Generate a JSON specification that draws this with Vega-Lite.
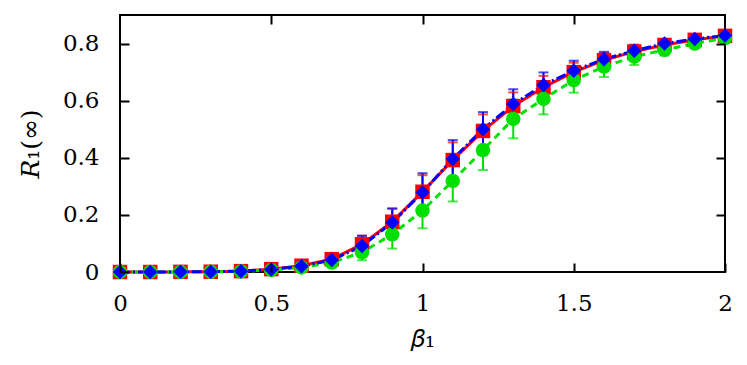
{
  "$schema": "https://vega.github.io/schema/vega-lite/v6.json",
  "width": 605,
  "height": 257,
  "autosize": {"type": "none"},
  "padding": {"left": 120, "top": 15, "right": 22, "bottom": 93},
  "background": "white",
  "config": {
    "view": {"stroke": "black", "strokeWidth": 2},
    "font": "DejaVu Serif"
  },
  "data": {"values": [
    {"s": "red", "x": 0, "y": 0, "lo": 0, "hi": 0},
    {"s": "red", "x": 0.1, "y": 0, "lo": 0, "hi": 0},
    {"s": "red", "x": 0.2, "y": 0.0005, "lo": 0.0003, "hi": 0.0007},
    {"s": "red", "x": 0.3, "y": 0.001, "lo": 0.0006, "hi": 0.0014},
    {"s": "red", "x": 0.4, "y": 0.003, "lo": 0.002, "hi": 0.004},
    {"s": "red", "x": 0.5, "y": 0.01, "lo": 0.007, "hi": 0.013},
    {"s": "red", "x": 0.6, "y": 0.022, "lo": 0.016, "hi": 0.028},
    {"s": "red", "x": 0.7, "y": 0.045, "lo": 0.033, "hi": 0.057},
    {"s": "red", "x": 0.8, "y": 0.097, "lo": 0.067, "hi": 0.127},
    {"s": "red", "x": 0.9, "y": 0.176, "lo": 0.131, "hi": 0.221},
    {"s": "red", "x": 1.0, "y": 0.281, "lo": 0.223, "hi": 0.339},
    {"s": "red", "x": 1.1, "y": 0.392, "lo": 0.33, "hi": 0.454},
    {"s": "red", "x": 1.2, "y": 0.494, "lo": 0.436, "hi": 0.552},
    {"s": "red", "x": 1.3, "y": 0.581, "lo": 0.533, "hi": 0.629},
    {"s": "red", "x": 1.4, "y": 0.647, "lo": 0.607, "hi": 0.687},
    {"s": "red", "x": 1.5, "y": 0.70, "lo": 0.667, "hi": 0.733},
    {"s": "red", "x": 1.6, "y": 0.742, "lo": 0.717, "hi": 0.767},
    {"s": "red", "x": 1.7, "y": 0.772, "lo": 0.752, "hi": 0.792},
    {"s": "red", "x": 1.8, "y": 0.795, "lo": 0.781, "hi": 0.809},
    {"s": "red", "x": 1.9, "y": 0.813, "lo": 0.803, "hi": 0.823},
    {"s": "red", "x": 2.0, "y": 0.827, "lo": 0.821, "hi": 0.833},
    {"s": "green", "x": 0, "y": 0, "lo": 0, "hi": 0},
    {"s": "green", "x": 0.1, "y": 0, "lo": 0, "hi": 0},
    {"s": "green", "x": 0.2, "y": 0.0003, "lo": 0.0002, "hi": 0.0004},
    {"s": "green", "x": 0.3, "y": 0.0008, "lo": 0.0005, "hi": 0.0011},
    {"s": "green", "x": 0.4, "y": 0.002, "lo": 0.001, "hi": 0.003},
    {"s": "green", "x": 0.5, "y": 0.007, "lo": 0.004, "hi": 0.010},
    {"s": "green", "x": 0.6, "y": 0.016, "lo": 0.008, "hi": 0.024},
    {"s": "green", "x": 0.7, "y": 0.033, "lo": 0.018, "hi": 0.048},
    {"s": "green", "x": 0.8, "y": 0.069, "lo": 0.041, "hi": 0.097},
    {"s": "green", "x": 0.9, "y": 0.132, "lo": 0.082, "hi": 0.182},
    {"s": "green", "x": 1.0, "y": 0.215, "lo": 0.153, "hi": 0.277},
    {"s": "green", "x": 1.1, "y": 0.319, "lo": 0.247, "hi": 0.391},
    {"s": "green", "x": 1.2, "y": 0.427, "lo": 0.357, "hi": 0.497},
    {"s": "green", "x": 1.3, "y": 0.536, "lo": 0.468, "hi": 0.604},
    {"s": "green", "x": 1.4, "y": 0.606, "lo": 0.552, "hi": 0.66},
    {"s": "green", "x": 1.5, "y": 0.672, "lo": 0.628, "hi": 0.716},
    {"s": "green", "x": 1.6, "y": 0.719, "lo": 0.683, "hi": 0.755},
    {"s": "green", "x": 1.7, "y": 0.754, "lo": 0.725, "hi": 0.783},
    {"s": "green", "x": 1.8, "y": 0.778, "lo": 0.758, "hi": 0.798},
    {"s": "green", "x": 1.9, "y": 0.80, "lo": 0.786, "hi": 0.814},
    {"s": "green", "x": 2.0, "y": 0.819, "lo": 0.809, "hi": 0.829},
    {"s": "blue", "x": 0, "y": 0, "lo": 0, "hi": 0},
    {"s": "blue", "x": 0.1, "y": 0, "lo": 0, "hi": 0},
    {"s": "blue", "x": 0.2, "y": 0.0005, "lo": 0.0003, "hi": 0.0007},
    {"s": "blue", "x": 0.3, "y": 0.001, "lo": 0.0006, "hi": 0.0014},
    {"s": "blue", "x": 0.4, "y": 0.003, "lo": 0.002, "hi": 0.004},
    {"s": "blue", "x": 0.5, "y": 0.009, "lo": 0.006, "hi": 0.012},
    {"s": "blue", "x": 0.6, "y": 0.02, "lo": 0.013, "hi": 0.027},
    {"s": "blue", "x": 0.7, "y": 0.042, "lo": 0.027, "hi": 0.057},
    {"s": "blue", "x": 0.8, "y": 0.091, "lo": 0.055, "hi": 0.127},
    {"s": "blue", "x": 0.9, "y": 0.173, "lo": 0.123, "hi": 0.223},
    {"s": "blue", "x": 1.0, "y": 0.279, "lo": 0.212, "hi": 0.346},
    {"s": "blue", "x": 1.1, "y": 0.396, "lo": 0.33, "hi": 0.462},
    {"s": "blue", "x": 1.2, "y": 0.50, "lo": 0.44, "hi": 0.56},
    {"s": "blue", "x": 1.3, "y": 0.588, "lo": 0.536, "hi": 0.64},
    {"s": "blue", "x": 1.4, "y": 0.655, "lo": 0.611, "hi": 0.699},
    {"s": "blue", "x": 1.5, "y": 0.705, "lo": 0.67, "hi": 0.74},
    {"s": "blue", "x": 1.6, "y": 0.745, "lo": 0.719, "hi": 0.771},
    {"s": "blue", "x": 1.7, "y": 0.775, "lo": 0.754, "hi": 0.796},
    {"s": "blue", "x": 1.8, "y": 0.80, "lo": 0.785, "hi": 0.815},
    {"s": "blue", "x": 1.9, "y": 0.816, "lo": 0.806, "hi": 0.826},
    {"s": "blue", "x": 2.0, "y": 0.828, "lo": 0.821, "hi": 0.835}
  ]},
  "encoding": {
    "x": {"field": "x", "type": "quantitative", "scale": {"domain": [0, 2], "nice": false}, "axis": null},
    "color": {"field": "s", "type": "nominal", "legend": null,
      "scale": {"domain": ["red", "green", "blue"], "range": ["#ff0000", "#00e000", "#0000ff"]}}
  },
  "layer": [
    {
      "mark": {"type": "rule", "strokeWidth": 2},
      "encoding": {
        "x": {"field": "x", "type": "quantitative", "axis": {"orient": "bottom", "zindex": 1, "values": [0, 0.5, 1, 1.5, 2], "format": "~g", "labelFlush": false, "grid": false, "domain": false, "ticks": true, "tickSize": 9, "tickWidth": 2, "tickColor": "#000000", "tickOpacity": 1, "offset": -9, "labelPadding": 20, "labelFont": "DejaVu Serif", "labelFontSize": 23, "labelColor": "#000000", "title": "𝛽₁", "titleFont": "DejaVu Serif", "titleFontSize": 25, "titleFontWeight": "normal", "titleColor": "#000000", "titlePadding": 11}},
        "y": {"field": "lo", "type": "quantitative", "scale": {"domain": [0, 0.9], "nice": false}, "axis": {"orient": "left", "zindex": 1, "values": [0, 0.2, 0.4, 0.6, 0.8], "format": "~g", "labelFlush": false, "grid": false, "domain": false, "ticks": true, "tickSize": 9, "tickWidth": 2, "tickColor": "#000000", "tickOpacity": 1, "offset": -9, "labelPadding": 21, "labelFont": "DejaVu Serif", "labelFontSize": 23, "labelColor": "#000000", "title": "𝑅₁(∞)", "titleFont": "DejaVu Serif", "titleFontSize": 25, "titleFontWeight": "normal", "titleColor": "#000000", "titlePadding": 19}},
        "y2": {"field": "hi"}
      }
    },
    {
      "mark": {"type": "tick", "orient": "horizontal", "size": 10, "thickness": 2},
      "encoding": {"y": {"field": "lo", "type": "quantitative", "axis": null}}
    },
    {
      "mark": {"type": "tick", "orient": "horizontal", "size": 10, "thickness": 2},
      "encoding": {"y": {"field": "hi", "type": "quantitative", "axis": null}}
    },
    {
      "mark": {"type": "line", "strokeWidth": 3, "clip": false},
      "encoding": {
        "y": {"field": "y", "type": "quantitative", "axis": null},
        "strokeDash": {"field": "s", "type": "nominal", "legend": null,
          "scale": {"domain": ["red", "green", "blue"], "range": [[1, 0], [7, 5], [10, 3, 2, 3]]}}
      }
    },
    {
      "mark": {"type": "point", "filled": true, "opacity": 1, "size": 210},
      "encoding": {
        "y": {"field": "y", "type": "quantitative", "axis": null},
        "shape": {"field": "s", "type": "nominal", "legend": null,
          "scale": {"domain": ["red", "green", "blue"], "range": ["square", "circle", "diamond"]}}
      }
    },
    {
      "mark": {"type": "point", "opacity": 0},
      "encoding": {
        "x": {"field": "x", "type": "quantitative", "axis": {"orient": "top", "zindex": 1, "values": [0.5, 1, 1.5], "labels": false, "title": null, "grid": false, "domain": false, "ticks": true, "tickSize": 9, "tickWidth": 2, "tickColor": "#000000", "offset": -9}},
        "y": {"field": "y", "type": "quantitative", "axis": {"orient": "right", "zindex": 1, "values": [0.2, 0.4, 0.6, 0.8], "labels": false, "title": null, "grid": false, "domain": false, "ticks": true, "tickSize": 9, "tickWidth": 2, "tickColor": "#000000", "offset": -9}}
      }
    }
  ],
  "resolve": {"axis": {"x": "independent", "y": "independent"}}
}
